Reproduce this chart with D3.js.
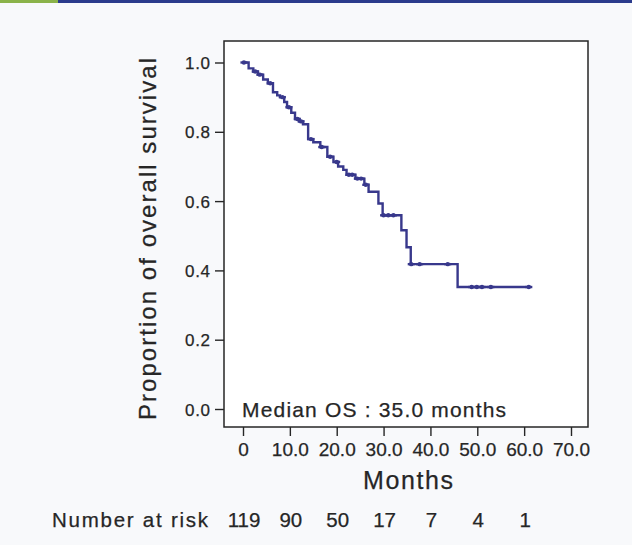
<!DOCTYPE html>
<html>
<head>
<meta charset="utf-8">
<script src="https://cdn.jsdelivr.net/npm/d3@7"></script>
<style>
  html, body { margin: 0; padding: 0; background: #f8f9fb; }
  svg { display: block; font-family: "Liberation Sans", Arial, sans-serif; }
  svg text { stroke: #262626; stroke-width: 0.25px; }
</style>
</head>
<body>
<div id="chart"></div>
<script>
// Kaplan-Meier overall survival

// event steps: month of drop and survival after the drop
var stepMonths = [0, 1.2, 2.2, 3.2, 4.3, 5.3, 6.4, 7.3, 7.9, 8.8, 9.4, 10.3, 11.1, 12.0, 12.8, 13.9, 15.0, 16.5, 18.0,
                  19.3, 20.3, 21.4, 22.1, 24.0, 25.9, 26.8, 28.9, 29.8, 33.8, 34.9, 35.8, 45.8];
var stepSurv   = [1.0, 0.983, 0.974, 0.965, 0.951, 0.94, 0.914, 0.905, 0.90, 0.886, 0.871, 0.855, 0.837, 0.83, 0.822, 0.779, 0.77, 0.756, 0.728,
                  0.713, 0.70, 0.69, 0.676, 0.665, 0.647, 0.627, 0.593, 0.559, 0.516, 0.467, 0.418, 0.352];
var lastMonth = 61;
var censorMonths = [0.2, 2.6, 3.6, 5.8, 8.4, 9.8, 11.6, 12.4, 14.5, 16.8, 18.6, 20.0, 22.6, 23.3, 24.4, 25.2, 26.2,
                    30.0, 31.0, 32.1, 35.9, 37.7, 43.7, 48.8, 49.9, 51.0, 52.9, 61.0];

var xTicks = [0, 10, 20, 30, 40, 50, 60, 70];
var xTickLabels = ["0", "10.0", "20.0", "30.0", "40.0", "50.0", "60.0", "70.0"];
var yTicks = [0, 0.2, 0.4, 0.6, 0.8, 1.0];
var riskMonths = [0, 10, 20, 30, 40, 50, 60];
var riskCounts = [119, 90, 50, 17, 7, 4, 1];

var width = 632, height = 545;
var box = {left: 224, right: 588, top: 41, bottom: 427};
var lineColor = "#38388c";
var ink = "#262626";

var svg = d3.select("#chart").append("svg")
    .attr("width", width)
    .attr("height", height);

svg.append("rect").attr("x", 0).attr("y", 0).attr("width", width).attr("height", height).attr("fill", "#f8f9fb");
// top strip of the page
svg.append("rect").attr("x", 0).attr("y", 0).attr("width", width).attr("height", 3).attr("fill", "#2b3b8c");
svg.append("rect").attr("x", 0).attr("y", 0).attr("width", 58).attr("height", 3).attr("fill", "#8bb34a");

var x = d3.scaleLinear().domain([0, 70]).range([243, 571]);
var y = d3.scaleLinear().domain([0, 1]).range([409, 62.5]);

// plot frame
svg.append("rect")
    .attr("x", box.left).attr("y", box.top)
    .attr("width", box.right - box.left).attr("height", box.bottom - box.top)
    .attr("fill", "#ffffff").attr("stroke", ink).attr("stroke-width", 1.5);

// y axis
var yAxis = d3.axisLeft(y).tickValues(yTicks).tickFormat(d3.format(".1f")).tickSize(9).tickPadding(5);
var gy = svg.append("g").attr("transform", "translate(" + box.left + ",0)").call(yAxis);
gy.select(".domain").remove();
gy.selectAll("line").attr("stroke", ink).attr("stroke-width", 1.4);
gy.selectAll("text")
    .attr("font-size", 17).attr("fill", ink)
    .attr("font-family", "Liberation Sans, Arial, sans-serif")
    .attr("textLength", 25).attr("lengthAdjust", "spacing")
    .attr("dy", "0.36em");

// x axis
var xAxis = d3.axisBottom(x).tickValues(xTicks).tickFormat(function(d, i){return xTickLabels[i];}).tickSize(9).tickPadding(7);
var gx = svg.append("g").attr("transform", "translate(0," + box.bottom + ")").call(xAxis);
gx.select(".domain").remove();
gx.selectAll("line").attr("stroke", ink).attr("stroke-width", 1.4);
gx.selectAll("text")
    .attr("font-size", 19).attr("fill", ink)
    .attr("font-family", "Liberation Sans, Arial, sans-serif");

// KM curve
var pts = [];
for (var i = 0; i < stepMonths.length; i++) pts.push([stepMonths[i], stepSurv[i]]);
pts.push([lastMonth, stepSurv[stepSurv.length - 1]]);
var line = d3.line().x(function(d){return x(d[0]);}).y(function(d){return y(d[1]);}).curve(d3.curveStepAfter);
svg.append("path").datum(pts)
    .attr("d", line)
    .attr("fill", "none")
    .attr("stroke", lineColor)
    .attr("stroke-width", 2.4);

function survAt(t) {
    var s = 1.0;
    for (var i = 0; i < stepMonths.length; i++) if (stepMonths[i] <= t) s = stepSurv[i];
    return s;
}

// censor marks
var cg = svg.append("g");
censorMonths.forEach(function(t) {
    var cx = x(t), cy = y(survAt(t));
    cg.append("line").attr("x1", cx - 3.5).attr("x2", cx + 3.5).attr("y1", cy).attr("y2", cy)
        .attr("stroke", lineColor).attr("stroke-width", 2.4);
    cg.append("circle").attr("cx", cx).attr("cy", cy).attr("r", 2.2).attr("fill", lineColor);
});

// labels
svg.append("text")
    .attr("x", 242).attr("y", 417)
    .attr("font-size", 21).attr("fill", ink)
    .attr("textLength", 264).attr("lengthAdjust", "spacing")
    .text("Median OS : 35.0 months");

svg.append("text")
    .attr("x", 363).attr("y", 489)
    .attr("font-size", 25).attr("fill", ink)
    .attr("textLength", 90).attr("lengthAdjust", "spacing")
    .text("Months");

svg.append("text")
    .attr("transform", "translate(156,239) rotate(-90)")
    .attr("x", -181)
    .attr("font-size", 24).attr("fill", ink)
    .attr("textLength", 362).attr("lengthAdjust", "spacing")
    .text("Proportion of overall survival");

svg.append("text")
    .attr("x", 52).attr("y", 527)
    .attr("font-size", 20.5).attr("fill", ink)
    .attr("textLength", 156).attr("lengthAdjust", "spacing")
    .text("Number at risk");

svg.append("g").selectAll("text").data(riskMonths).enter().append("text")
    .attr("x", function(d){return x(d) + 1;})
    .attr("y", 527)
    .attr("text-anchor", "middle")
    .attr("font-size", 20.5).attr("fill", ink)
    .text(function(d, i){return riskCounts[i];});
</script>
</body>
</html>
